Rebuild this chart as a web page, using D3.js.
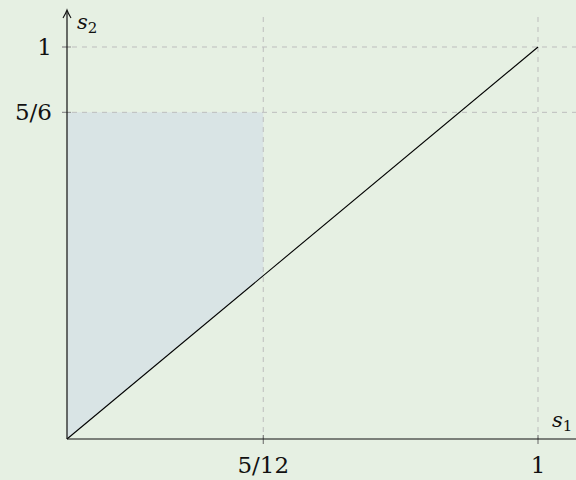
<!DOCTYPE html>
<html><head><meta charset="utf-8">
<script src="https://cdn.jsdelivr.net/npm/d3@7"></script>
<style>html,body{margin:0;padding:0;background:#e6f0e3;}svg{display:block;}
text{font-family:"DejaVu Serif";}</style>
</head><body>
<svg id="c" width="576" height="480"></svg>
<script>
const xTicks = [5/12, 1];
const xTickLabels = ["5/12", "1"];
const yTicks = [5/6, 1];
const yTickLabels = ["5/6", "1"];
const lineS1 = [0, 1];
const lineS2 = [0, 1];
const regionS1 = [0, 0, 5/12, 5/12];
const regionS2 = [0, 5/6, 5/6, 5/12];

const svg = d3.select("#c");
const W = 576, H = 480;
const x = d3.scaleLinear().domain([0, 1]).range([67, 538]);
const y = d3.scaleLinear().domain([0, 1]).range([439, 47]);
svg.append("rect").attr("width", W).attr("height", H).attr("fill", "#e6f0e3");

svg.append("path")
  .attr("d", d3.line()(regionS1.map((v, i) => [x(v), y(regionS2[i])])) + "Z")
  .attr("fill", "#d9e4e5");

const dash = "5,5";
const gridCol = "#bdbdbd";
svg.selectAll(".vg").data(xTicks).enter().append("line")
  .attr("x1", d => x(d)).attr("x2", d => x(d))
  .attr("y1", 17).attr("y2", y(0))
  .attr("stroke", gridCol).attr("stroke-width", 1).attr("stroke-dasharray", dash);
svg.selectAll(".hg").data(yTicks).enter().append("line")
  .attr("x1", x(0) - 5).attr("x2", W)
  .attr("y1", d => y(d)).attr("y2", d => y(d))
  .attr("stroke", gridCol).attr("stroke-width", 1).attr("stroke-dasharray", dash);

svg.selectAll(".xt").data(xTicks).enter().append("line")
  .attr("x1", d => x(d)).attr("x2", d => x(d))
  .attr("y1", y(0) - 4).attr("y2", y(0) + 5)
  .attr("stroke", "#666").attr("stroke-width", 1);
svg.selectAll(".yt").data(yTicks).enter().append("line")
  .attr("x1", x(0) - 5).attr("x2", x(0) + 4)
  .attr("y1", d => y(d)).attr("y2", d => y(d))
  .attr("stroke", "#888").attr("stroke-width", 1);

svg.append("path")
  .attr("d", d3.line()(lineS1.map((v, i) => [x(v), y(lineS2[i])])))
  .attr("stroke", "#000").attr("stroke-width", 1.1).attr("fill", "none");

svg.append("line").attr("x1", x(0)).attr("x2", W).attr("y1", y(0)).attr("y2", y(0))
  .attr("stroke", "#111").attr("stroke-width", 1);
svg.append("line").attr("x1", x(0)).attr("x2", x(0)).attr("y1", y(0)).attr("y2", 11)
  .attr("stroke", "#111").attr("stroke-width", 1.2);
svg.append("path")
  .attr("d", `M${x(0)-4},${18} Q${x(0)-1},${13} ${x(0)},${10} Q${x(0)+1},${13} ${x(0)+4},${18}`)
  .attr("stroke", "#111").attr("stroke-width", 1.1).attr("fill", "none");

svg.selectAll(".xl").data(xTicks).enter().append("text")
  .attr("x", d => x(d)).attr("y", y(0) + 34)
  .attr("text-anchor", "middle").style("font-size", "23px")
  .attr("fill", "#111").text((d, i) => xTickLabels[i]);
svg.selectAll(".yl").data(yTicks).enter().append("text")
  .attr("x", x(0) - 15).attr("y", d => y(d) + 8)
  .attr("text-anchor", "end").style("font-size", "23px")
  .attr("fill", "#111").text((d, i) => yTickLabels[i]);

const s2 = svg.append("text").attr("x", 77).attr("y", 29)
  .style("font-size", "21px").attr("fill", "#111");
s2.append("tspan").attr("font-style", "italic").text("s");
s2.append("tspan").style("font-size", "15px").attr("dy", 4).text("2");
const s1 = svg.append("text").attr("x", 552).attr("y", 427)
  .style("font-size", "21px").attr("fill", "#111");
s1.append("tspan").attr("font-style", "italic").text("s");
s1.append("tspan").style("font-size", "15px").attr("dy", 4).text("1");
</script>
</body></html>
